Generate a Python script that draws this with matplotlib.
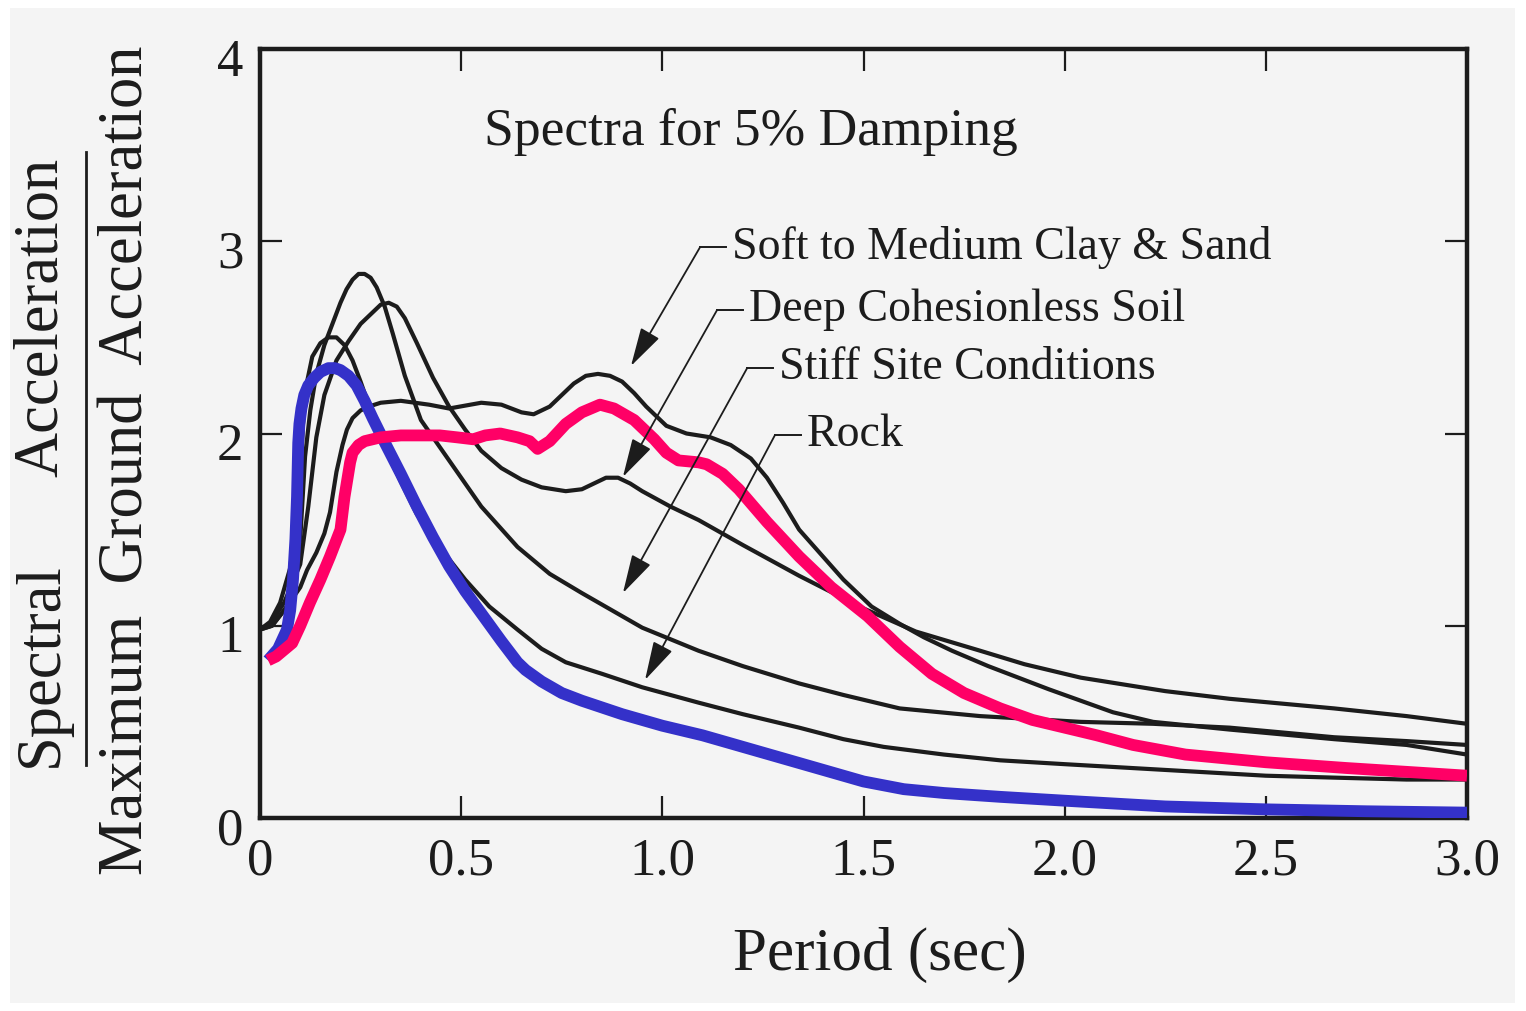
import matplotlib
matplotlib.use("Agg")
import matplotlib.pyplot as plt
from matplotlib.patches import Rectangle
from matplotlib.transforms import ScaledTranslation

plt.rcParams['font.family'] = ['Liberation Serif', 'DejaVu Serif']

# normalised response spectra (period in s, Sa / PGA)
rock_t = [0.0, 0.025, 0.05, 0.075, 0.09, 0.10, 0.107, 0.115, 0.13, 0.15, 0.17, 0.19, 0.21,
          0.23, 0.25, 0.27, 0.30, 0.35, 0.39, 0.45, 0.51, 0.57, 0.64, 0.70, 0.76, 0.85, 0.95,
          1.09, 1.2, 1.34, 1.45, 1.55, 1.7, 1.84, 2.0, 2.25, 2.5, 2.67, 2.85, 3.0]
rock_sa = [0.98, 1.02, 1.12, 1.30, 1.55, 1.79, 2.05, 2.25, 2.40, 2.47, 2.50, 2.50, 2.46,
           2.38, 2.27, 2.15, 1.97, 1.75, 1.58, 1.40, 1.24, 1.10, 0.98, 0.88, 0.81, 0.75, 0.68,
           0.60, 0.54, 0.47, 0.41, 0.37, 0.33, 0.30, 0.28, 0.25, 0.22, 0.21, 0.20, 0.20]

stiff_t = [0.0, 0.03, 0.067, 0.085, 0.10, 0.112, 0.125, 0.14, 0.16, 0.18, 0.20, 0.215, 0.23,
           0.245, 0.26, 0.275, 0.29, 0.31, 0.33, 0.36, 0.40, 0.47, 0.55, 0.64, 0.72, 0.80,
           0.85, 0.95, 1.09, 1.2, 1.34, 1.45, 1.59, 1.79, 2.04, 2.22, 2.41, 2.67, 2.85, 3.0]
stiff_sa = [0.98, 1.00, 1.10, 1.25, 1.45, 1.88, 2.12, 2.31, 2.46, 2.57, 2.68, 2.75, 2.80,
            2.83, 2.83, 2.81, 2.76, 2.66, 2.52, 2.30, 2.07, 1.86, 1.62, 1.41, 1.27, 1.17,
            1.11, 0.99, 0.87, 0.79, 0.70, 0.64, 0.57, 0.53, 0.50, 0.49, 0.47, 0.42, 0.40, 0.38]

deep_t = [0.0, 0.025, 0.06, 0.10, 0.12, 0.14, 0.16, 0.19, 0.22, 0.25, 0.28, 0.30, 0.32, 0.34,
          0.36, 0.39, 0.43, 0.47, 0.51, 0.55, 0.60, 0.65, 0.70, 0.76, 0.80, 0.83, 0.86, 0.89,
          0.92, 0.95, 1.02, 1.09, 1.2, 1.34, 1.50, 1.63, 1.71, 1.79, 1.9, 2.04, 2.25, 2.41,
          2.67, 2.85, 3.0]
deep_sa = [0.98, 1.01, 1.12, 1.32, 1.62, 1.98, 2.20, 2.38, 2.48, 2.57, 2.63, 2.67, 2.68, 2.66,
           2.60, 2.47, 2.29, 2.14, 2.02, 1.91, 1.82, 1.76, 1.72, 1.70, 1.71, 1.74, 1.77, 1.77,
           1.74, 1.70, 1.62, 1.55, 1.42, 1.26, 1.09, 0.97, 0.92, 0.87, 0.80, 0.73, 0.66, 0.62,
           0.57, 0.53, 0.49]

soft_t = [0.0, 0.03, 0.06, 0.10, 0.117, 0.14, 0.16, 0.174, 0.19, 0.205, 0.216, 0.23, 0.25,
          0.27, 0.30, 0.35, 0.42, 0.47, 0.55, 0.60, 0.65, 0.68, 0.72, 0.75, 0.78, 0.81, 0.84,
          0.87, 0.90, 0.93, 0.96, 1.01, 1.06, 1.12, 1.17, 1.22, 1.26, 1.30, 1.34, 1.45, 1.52,
          1.59, 1.65, 1.72, 1.81, 1.96, 2.12, 2.22, 2.41, 2.67, 2.85, 3.0]
soft_sa = [0.98, 1.00, 1.08, 1.20, 1.29, 1.38, 1.48, 1.59, 1.80, 1.94, 2.02, 2.08, 2.12,
           2.14, 2.16, 2.17, 2.15, 2.13, 2.16, 2.15, 2.11, 2.10, 2.14, 2.20, 2.26, 2.30, 2.31,
           2.30, 2.27, 2.21, 2.14, 2.04, 2.00, 1.98, 1.94, 1.87, 1.77, 1.64, 1.50, 1.24, 1.10,
           1.01, 0.94, 0.87, 0.79, 0.67, 0.55, 0.50, 0.46, 0.41, 0.38, 0.33]

blue_t = [0.02, 0.045, 0.067, 0.075, 0.082, 0.088, 0.092, 0.095, 0.098, 0.103, 0.11, 0.12,
          0.135, 0.15, 0.17, 0.186, 0.20, 0.22, 0.24, 0.26, 0.28, 0.306, 0.35, 0.39, 0.43,
          0.47, 0.51, 0.555, 0.60, 0.64, 0.66, 0.70, 0.75, 0.80, 0.90, 1.0, 1.1, 1.2, 1.3,
          1.4, 1.5, 1.6, 1.7, 1.84, 2.0, 2.25, 2.5, 2.75, 3.0]
blue_sa = [0.82, 0.88, 0.98, 1.08, 1.24, 1.45, 1.67, 1.95, 2.05, 2.13, 2.20, 2.25,
           2.29, 2.32, 2.34, 2.34, 2.33, 2.30, 2.25, 2.17, 2.08, 1.97, 1.79, 1.62, 1.46,
           1.31, 1.18, 1.05, 0.92, 0.81, 0.77, 0.71, 0.65, 0.61, 0.54, 0.48, 0.43, 0.37, 0.31,
           0.25, 0.19, 0.15, 0.13, 0.11, 0.09, 0.06, 0.045, 0.035, 0.028]

pink_t = [0.02, 0.04, 0.08, 0.10, 0.124, 0.15, 0.174, 0.20, 0.21, 0.224, 0.23, 0.245, 0.26,
          0.30, 0.35, 0.447, 0.49, 0.53, 0.56, 0.597, 0.64, 0.67, 0.69, 0.72, 0.76, 0.80,
          0.845, 0.88, 0.93, 0.98, 1.01, 1.04, 1.09, 1.11, 1.15, 1.19, 1.26, 1.34, 1.42, 1.51,
          1.59, 1.67, 1.75, 1.84, 1.92, 2.0, 2.08, 2.17, 2.3, 2.5, 2.7, 2.85, 3.0]
pink_sa = [0.82, 0.84, 0.91, 1.00, 1.12, 1.24, 1.36, 1.50, 1.67, 1.85, 1.90, 1.94, 1.96,
           1.98, 1.99, 1.99, 1.98, 1.97, 1.99, 2.00, 1.98, 1.96, 1.92, 1.96, 2.05, 2.11,
           2.15, 2.13, 2.07, 1.97, 1.90, 1.86, 1.85, 1.84, 1.79, 1.71, 1.54, 1.36, 1.20, 1.05,
           0.89, 0.75, 0.65, 0.57, 0.51, 0.47, 0.43, 0.38, 0.33, 0.29, 0.26, 0.24, 0.22]

x_ticks = [0, 0.5, 1.0, 1.5, 2.0, 2.5, 3.0]
x_tick_labels = ['0', '0.5', '1.0', '1.5', '2.0', '2.5', '3.0']
y_ticks = [0, 1, 2, 3, 4]

# label text, leader start (t, Sa), arrow tip (t, Sa)
site_labels = ['Soft to Medium Clay & Sand', 'Deep Cohesionless Soil',
               'Stiff Site Conditions', 'Rock']
leader_start = [(1.094, 2.97), (1.136, 2.642), (1.211, 2.341), (1.280, 1.992)]
arrow_tip = [(0.922, 2.351), (0.902, 1.774), (0.902, 1.170), (0.957, 0.718)]

ink = '#1c1c1c'

fig = plt.figure(figsize=(15.26, 10.11), dpi=100)
fig.patch.set_facecolor('white')
fig.patches.append(Rectangle((10 / 1526, 8 / 1011), 1505 / 1526, 995 / 1011,
                             transform=fig.transFigure, facecolor='#f4f4f4',
                             edgecolor='none', zorder=-10))

ax = fig.add_axes([260 / 1526, 1 - 818 / 1011, 1207 / 1526, 769 / 1011])
ax.set_facecolor('none')

for t, sa in [(soft_t, soft_sa), (deep_t, deep_sa), (stiff_t, stiff_sa), (rock_t, rock_sa)]:
    ax.plot(t, sa, color=ink, lw=3.0, solid_joinstyle='round', zorder=2)

ax.plot(blue_t, blue_sa, color='#3431c9', lw=8.5, solid_capstyle='butt',
        solid_joinstyle='round', zorder=3)
ax.plot(pink_t, pink_sa, color='#ff0066', lw=8.5, solid_capstyle='butt',
        solid_joinstyle='round', zorder=4)

ax.set_xlim(0, 3.0)
ax.set_ylim(0, 4)
ax.set_xticks(x_ticks)
ax.set_xticklabels(x_tick_labels)
ax.set_yticks(y_ticks)
ax.tick_params(direction='in', length=16, width=1.6, colors=ink, labelsize=38,
               top=True, right=True)
ax.tick_params(axis='x', pad=14)
ax.tick_params(axis='y', pad=12)
for lbl in ax.get_yticklabels():
    lbl.set_transform(lbl.get_transform() + ScaledTranslation(0, -0.08, fig.dpi_scale_trans))
for s in ax.spines.values():
    s.set_linewidth(3.2)
    s.set_color(ink)

ax.text(1.22, 3.57, 'Spectra for 5% Damping', fontsize=38.5, color=ink,
        ha='center', va='center')

for lab, (x0, y0), (x1, y1) in zip(site_labels, leader_start, arrow_tip):
    ax.plot([x0, x0 + 0.065], [y0, y0], color=ink, lw=1.4, zorder=5)
    ax.annotate('', xy=(x1, y1), xytext=(x0, y0),
                arrowprops=dict(arrowstyle='-|>,head_length=1.1,head_width=0.3',
                                mutation_scale=22, lw=1.3, color=ink,
                                shrinkA=0, shrinkB=0), zorder=5)
    ax.text(x0 + 0.08, y0, lab, fontsize=33, color=ink, ha='left', va='center')

# stacked y-axis label: Sa over PGA
fig.text(42 / 1526, 1 - 665 / 1011, 'Spectral', rotation=90, fontsize=45,
         color=ink, ha='center', va='center')
fig.text(42 / 1526, 1 - 317 / 1011, 'Acceleration', rotation=90, fontsize=45,
         color=ink, ha='center', va='center')
fig.lines.append(plt.Line2D([86 / 1526, 86 / 1526], [1 - 765 / 1011, 1 - 152 / 1011],
                            transform=fig.transFigure, color=ink, lw=2.0))
fig.text(128 / 1526, 1 - 460 / 1011, 'Maximum  Ground  Acceleration', rotation=90,
         fontsize=45, color=ink, ha='center', va='center')

fig.text(880 / 1526, 1 - 955 / 1011, 'Period (sec)', fontsize=44, color=ink,
         ha='center', va='center')

fig.savefig('out.png', dpi=100, facecolor=fig.get_facecolor())
